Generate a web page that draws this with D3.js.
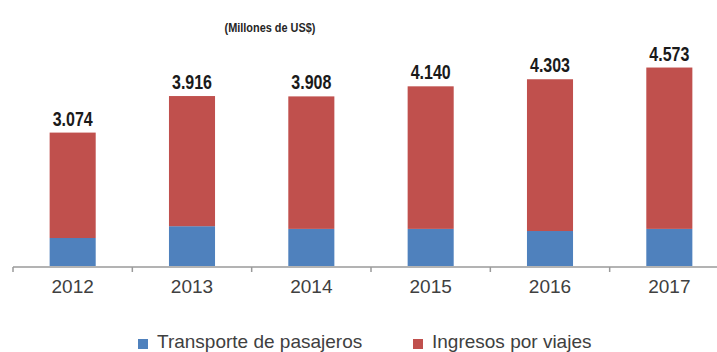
<!DOCTYPE html>
<html>
<head>
<meta charset="utf-8">
<script src="https://cdn.jsdelivr.net/npm/d3@7"></script>
<style>
  html, body { margin: 0; padding: 0; background: #fff; }
  svg { display: block; }
</style>
</head>
<body>
<svg id="chart" width="717" height="352"></svg>
<script>
// Ingresos por turismo receptivo, millones de US$
const years = ["2012", "2013", "2014", "2015", "2016", "2017"];
const totals = [3074, 3916, 3908, 4140, 4303, 4573];
const transporte = [645, 917, 855, 855, 806, 855];
const viajes = totals.map((t, i) => t - transporte[i]);
const totalLabels = ["3.074", "3.916", "3.908", "4.140", "4.303", "4.573"];
const seriesNames = ["Transporte de pasajeros", "Ingresos por viajes"];
const seriesColors = ["#4F81BD", "#C0504D"];

const svg = d3.select("#chart");
const regular = "'Liberation Sans', Arial, sans-serif";

const pad = 0.614;
const x = d3.scaleBand().domain(years).range([13, 729])
  .paddingInner(pad).paddingOuter(pad / 2);
const y = d3.scaleLinear().domain([0, 5000]).range([266, 49]);

const rows = years.map((yr, i) => ({ year: yr, transporte: transporte[i], viajes: viajes[i] }));
const stack = d3.stack().keys(["transporte", "viajes"]);
const layers = stack(rows);

svg.append("g").selectAll("g")
  .data(layers)
  .join("g")
  .attr("fill", (d, i) => seriesColors[i])
  .selectAll("rect")
  .data(d => d)
  .join("rect")
  .attr("x", d => x(d.data.year))
  .attr("width", x.bandwidth())
  .attr("y", d => y(d[1]))
  .attr("height", d => y(d[0]) - y(d[1]));

// Category axis: line with tick marks at the band boundaries
const axisY = 267;
const axis = svg.append("g").attr("transform", `translate(0,${axisY})`);
axis.append("line")
  .attr("x1", 13).attr("x2", 717)
  .attr("stroke", "#9a9a9a").attr("stroke-width", 1.5);
const gap = (x.step() - x.bandwidth()) / 2;
axis.selectAll("line.tick")
  .data(years)
  .join("line")
  .attr("class", "tick")
  .attr("x1", d => x(d) - gap).attr("x2", d => x(d) - gap)
  .attr("y1", 0).attr("y2", 5)
  .attr("stroke", "#9a9a9a").attr("stroke-width", 1.5);
axis.selectAll("text")
  .data(years)
  .join("text")
  .attr("x", d => x(d) + x.bandwidth() / 2)
  .attr("y", 26)
  .attr("text-anchor", "middle")
  .attr("font-family", regular)
  .attr("font-size", 19)
  .attr("fill", "#404040")
  .text(d => d);

// Totals above each bar, in a narrowed bold face
svg.append("g").selectAll("g")
  .data(years)
  .join("g")
  .attr("transform", (d, i) =>
    `translate(${x(d) + x.bandwidth() / 2},${y(totals[i]) - 7}) scale(0.8,1)`)
  .append("text")
  .attr("text-anchor", "middle")
  .attr("font-family", regular)
  .attr("font-weight", "bold")
  .attr("font-size", 20)
  .attr("fill", "#1a1a1a")
  .text((d, i) => totalLabels[i]);

// Unit subtitle
svg.append("g")
  .attr("transform", "translate(270,32) scale(0.84,1)")
  .append("text")
  .attr("text-anchor", "middle")
  .attr("font-family", regular)
  .attr("font-weight", "bold")
  .attr("font-size", 13)
  .attr("fill", "#262626")
  .text("(Millones de US$)");

// Legend
const legendX = [138, 413];
const legend = svg.append("g").selectAll("g")
  .data(seriesNames)
  .join("g")
  .attr("transform", (d, i) => `translate(${legendX[i]},339)`);
legend.append("rect")
  .attr("width", 10).attr("height", 10)
  .attr("fill", (d, i) => seriesColors[i]);
legend.append("text")
  .attr("x", 19).attr("y", 9)
  .attr("font-family", regular)
  .attr("font-size", 19)
  .attr("fill", "#404040")
  .text(d => d);
</script>
</body>
</html>
